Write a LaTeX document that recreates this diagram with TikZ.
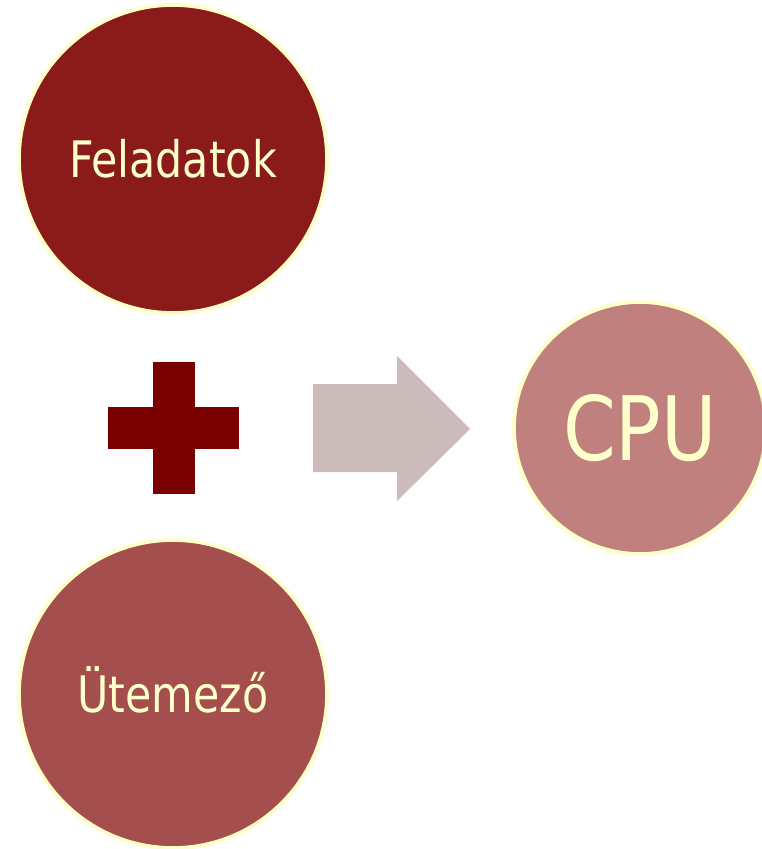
\documentclass[tikz,border=0pt]{standalone}
\usepackage{fontspec}
\setmainfont{DejaVu Sans}[FakeStretch=0.85]
\usetikzlibrary{positioning}

\definecolor{taskred}{HTML}{8B1A1A}
\definecolor{schedred}{HTML}{A44F4D}
\definecolor{cpurose}{HTML}{BF807E}
\definecolor{paleyellow}{HTML}{FFFFCC}
\definecolor{plusred}{HTML}{7A0000}
\definecolor{arrowgray}{HTML}{CCBBBB}

\begin{document}
\begin{tikzpicture}[
    x=0.01cm, y=-0.01cm,
    bubble/.style={circle, draw=paleyellow, line width=1.1pt, text=paleyellow,
        text depth=0pt, inner sep=0pt},
    bigbubble/.style={bubble, minimum size=3.08cm, text height=10.4pt,
        font=\fontsize{14.3}{16}\selectfont},
    smallbubble/.style={bubble, minimum size=2.52cm, text height=18.5pt,
        font=\fontsize{25.3}{28}\selectfont}
]
    \useasboundingbox (0,0) rectangle (762,849);

    % Input circles
    \node[bigbubble, fill=taskred] (tasks) at (173,159) {Feladatok};
    \node[bigbubble, fill=schedred] (sched) at (173,694) {Ütemező};

    % Result circle
    \node[smallbubble, fill=cpurose] (cpu) at (640,428) {CPU};

    % Plus sign
    \fill[plusred] (153,362) rectangle (195,494);
    \fill[plusred] (108,407) rectangle (239,449);

    % Block arrow
    \fill[arrowgray] (313,384) -- (397,384) -- (397,356) -- (470,429)
        -- (397,501) -- (397,472) -- (313,472) -- cycle;
\end{tikzpicture}
\end{document}
